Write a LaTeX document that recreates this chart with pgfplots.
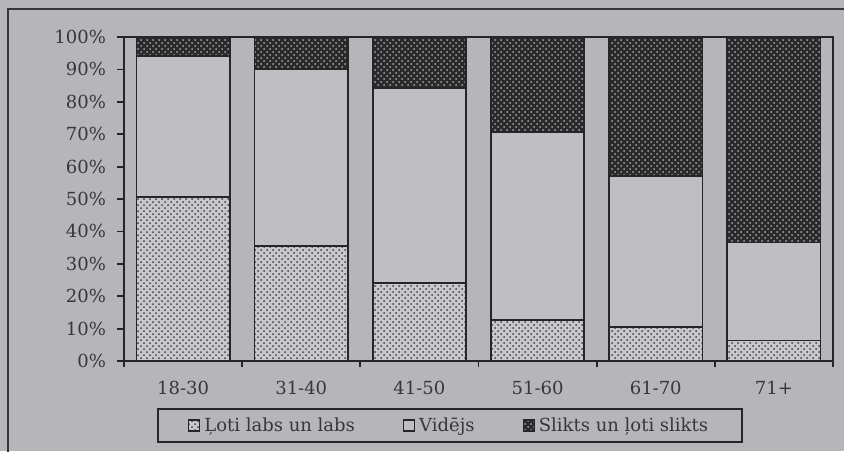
\documentclass[border=0pt]{standalone}
\usepackage{fontspec}
\setmainfont{DejaVu Serif}
\usepackage{pgfplots}
\pgfplotsset{compat=1.18}
\usetikzlibrary{patterns}

\definecolor{paper}{RGB}{182,182,186}
\definecolor{midfill}{RGB}{191,191,195}
\definecolor{lightfill}{RGB}{200,200,204}
\definecolor{darkfill}{RGB}{42,42,45}
\definecolor{ink}{RGB}{55,55,55}

% shares per age group (%)
\pgfplotstableread{
x good mid bad
0 50.5 43.7 5.8
1 35.6 54.5 9.9
2 24.1 60.1 15.8
3 12.7 58.0 29.3
4 10.6 46.4 43.0
5  6.3 30.3 63.4
}\survey

\begin{document}
\begin{tikzpicture}[font=\fontsize{9}{11}\selectfont, every node/.style={text=ink}]
\useasboundingbox (0,0) rectangle (422pt,225.5pt);
\fill[paper] (0,0) rectangle (422pt,225.5pt);
\draw[ink, line width=1pt] (4pt,-10pt) -- (4pt,221pt) -- (440pt,221pt);
\begin{axis}[
    at={(62pt,45pt)}, anchor=south west,
    scale only axis, width=354.5pt, height=162pt,
    ybar stacked, bar width=0.79,
    xmin=-0.5, xmax=5.5, ymin=0, ymax=100,
    axis line style={line width=0.9pt, black!85},
    tick align=outside,
    xtick pos=bottom, ytick pos=left,
    xtick={0,...,5},
    xticklabels={18-30,31-40,41-50,51-60,61-70,71+},
    major x tick style={draw=none},
    minor xtick={-0.5,0.5,1.5,2.5,3.5,4.5,5.5},
    minor tick length=3pt,
    minor x tick style={line width=0.9pt, black!85},
    xticklabel style={yshift=-3pt},
    ytick={0,10,...,100},
    yticklabels={0\%,10\%,20\%,30\%,40\%,50\%,60\%,70\%,80\%,90\%,100\%},
    major tick length=3.5pt,
    major y tick style={line width=0.9pt, black!85},
    yticklabel style={xshift=-2pt},
    legend columns=3,
    legend style={at={(0.46,-0.2)}, anchor=center, fill=paper,
        draw=black!85, line width=1pt, inner xsep=15pt, inner ysep=2pt,
        /tikz/every even column/.append style={column sep=22pt},
        font=\fontsize{9}{11}\selectfont},
    legend image code/.code={\draw[#1, line width=0.6pt] (0pt,-2.6pt) rectangle (5.5pt,2.9pt);},
]
\addplot[fill=lightfill, draw=black!85, line width=0.9pt,
    postaction={pattern=crosshatch dots, pattern color=black!75}]
    table[x=x, y=good] {\survey};
\addplot[fill=midfill, draw=black!85, line width=0.9pt]
    table[x=x, y=mid] {\survey};
\addplot[fill=darkfill, draw=black!85, line width=0.9pt,
    postaction={pattern=crosshatch dots, pattern color=gray!70}]
    table[x=x, y=bad] {\survey};
\legend{Ļoti labs un labs, Vidējs, Slikts un ļoti slikts}
\end{axis}
\end{tikzpicture}
\end{document}
